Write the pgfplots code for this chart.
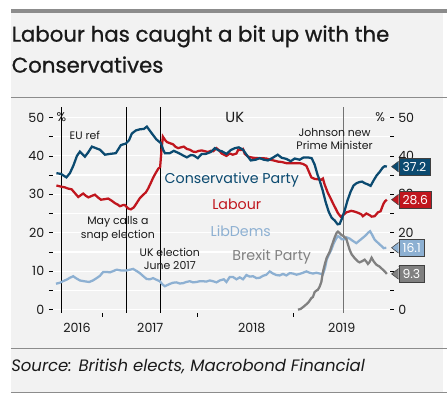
\documentclass[border=0pt]{standalone}
\usepackage{pgfplots}
\pgfplotsset{compat=1.18}
\usepackage{fontspec}
\setmainfont{Poppins}
\newfontfamily\titlefont{Poppins}[FakeBold=0.8]
\definecolor{con}{HTML}{0B4A70}
\definecolor{lab}{HTML}{C0161E}
\definecolor{ld}{HTML}{8DB0D2}
\definecolor{bxp}{HTML}{808080}
\definecolor{panel}{HTML}{F2F2F2}
\definecolor{rule}{HTML}{8C8C8C}
\definecolor{ink}{HTML}{1A1A1A}

\tikzset{valbox/.style={anchor=west, draw=black!75, line width=0.4pt, text=white,
    font=\fontsize{9.3}{10}\selectfont, inner xsep=2.8pt, inner ysep=0pt,
    minimum height=12.5pt}}

\pgfplotstableread{
m v
6.31 35.5
6.88 35.3
7.56 34.4
8.0 35.5
8.44 37.5
8.88 40.0
9.25 41.1
9.88 39.8
10.25 40.8
10.75 42.4
11.25 42.0
11.75 41.6
12.38 40.3
13.0 40.5
13.75 40.7
14.38 42.8
15.0 43.2
15.38 44.0
15.75 45.8
16.25 46.6
16.75 46.9
17.25 47.0
17.63 47.6
18.19 46.0
18.81 44.3
19.38 43.3
19.69 41.5
19.88 40.7
20.5 40.7
21.0 41.3
21.63 40.7
22.25 40.0
22.63 39.6
23.13 40.2
23.5 40.1
24.0 39.4
24.5 40.5
25.0 40.5
25.63 41.0
26.13 42.0
26.63 41.4
27.0 41.2
27.59 40.5
28.13 41.5
28.63 42.0
29.13 42.2
29.66 41.6
30.13 40.2
30.63 38.8
31.25 39.0
31.75 39.4
32.25 39.0
32.79 38.8
33.38 39.5
34.0 40.3
34.5 39.5
35.09 39.2
35.63 38.6
36.13 39.3
36.75 39.0
37.25 39.6
37.75 39.6
38.25 39.4
38.63 37.7
39.0 35.0
39.25 33.6
39.63 31.0
40.0 28.0
40.38 25.5
40.75 23.9
41.13 23.2
41.5 22.2
41.75 22.3
42.0 23.5
42.38 25.8
42.75 28.5
43.13 30.7
43.5 32.3
43.88 32.9
44.25 33.2
44.56 33.3
44.88 32.9
45.25 32.6
45.63 32.2
46.0 33.6
46.38 34.9
46.75 35.8
47.13 36.9
47.38 37.3
47.66 37.2
}\conTable

\pgfplotstableread{
m v
6.31 32.3
6.88 32.0
7.38 31.8
7.75 31.5
8.21 31.3
8.63 30.3
9.04 29.3
9.38 29.8
9.66 30.2
10.0 29.6
10.31 29.2
10.75 29.6
11.13 29.9
11.5 29.2
11.88 28.6
12.25 28.7
12.79 28.9
13.25 28.3
13.63 27.7
14.0 27.3
14.25 26.9
14.66 27.2
14.88 27.2
15.29 26.3
15.63 26.1
16.0 26.6
16.38 27.8
16.75 29.0
17.13 29.8
17.5 30.5
17.79 31.5
18.13 33.0
18.41 34.3
18.75 35.6
19.04 36.6
19.29 37.1
19.44 41.0
19.63 45.0
19.88 44.2
20.13 43.6
20.5 43.3
20.91 43.0
21.25 42.3
21.54 42.0
21.88 42.2
22.25 42.4
22.63 41.8
23.0 41.6
23.41 41.1
23.75 41.0
24.13 41.3
24.5 41.4
24.88 41.2
25.29 41.0
25.63 41.3
25.94 41.2
26.34 42.0
26.63 41.5
27.0 40.6
27.59 40.0
28.0 40.6
28.38 40.3
28.84 40.6
29.06 41.6
29.38 41.5
29.66 41.8
29.88 40.5
30.29 39.8
30.91 39.5
31.5 39.4
32.0 39.4
32.59 39.3
33.0 39.0
33.5 38.8
34.04 38.5
34.5 38.4
35.09 38.1
35.63 38.1
36.34 38.1
36.75 38.1
37.16 37.9
37.59 37.4
37.88 36.0
38.21 34.4
38.63 34.0
39.04 33.9
39.46 33.8
39.66 34.1
39.88 32.5
40.29 30.3
40.63 28.9
40.91 27.7
41.25 26.3
41.54 25.1
41.88 24.2
42.13 24.5
42.59 25.3
43.21 25.7
43.63 25.5
44.04 25.2
44.46 24.8
44.66 24.3
45.09 25.0
45.5 24.6
45.75 24.2
46.13 24.3
46.54 25.3
46.88 25.6
47.06 26.6
47.25 27.6
47.44 28.2
47.66 28.6
}\labTable

\pgfplotstableread{
m v
6.25 6.75
6.75 7.0
7.13 7.4
7.59 7.8
8.0 8.3
8.41 8.7
8.75 8.2
9.25 7.6
9.75 7.4
10.41 7.2
10.88 7.6
11.34 8.2
11.75 8.8
12.16 9.8
12.63 9.8
13.0 9.7
13.38 10.0
13.84 10.4
14.38 10.2
15.09 10.2
15.5 10.4
15.91 10.6
16.31 10.1
16.75 9.5
17.13 8.8
17.59 8.0
18.0 7.9
18.41 8.2
18.81 7.8
19.25 7.4
19.56 6.6
19.88 6.1
20.19 6.4
20.5 6.7
20.88 7.0
21.34 7.1
21.75 6.8
22.16 6.9
22.56 7.2
23.0 7.4
23.41 7.1
23.84 7.2
24.25 7.4
24.66 7.4
25.06 7.3
25.5 7.6
25.91 7.4
26.34 7.1
26.75 7.6
27.25 7.9
27.59 7.2
28.0 8.5
28.41 8.5
28.84 7.9
29.25 8.4
29.66 7.9
30.09 9.0
30.5 8.6
30.91 8.7
31.34 8.2
31.75 8.3
32.16 8.8
32.59 9.1
33.0 9.95
33.41 9.4
33.84 9.0
34.25 8.9
34.66 9.3
35.09 8.9
35.5 9.5
35.91 9.4
36.34 9.1
36.75 9.3
37.16 9.6
37.59 9.95
38.0 9.6
38.41 9.4
38.84 9.6
39.25 9.4
39.66 9.2
39.94 11.0
40.13 13.0
40.38 14.2
40.71 15.6
41.0 17.2
41.34 18.6
41.56 19.1
41.75 18.9
42.0 18.3
42.38 18.3
42.63 18.8
43.0 18.5
43.25 18.1
43.84 17.3
44.25 18.0
44.66 18.7
45.0 19.3
45.31 20.0
45.56 20.4
45.81 19.5
46.13 18.2
46.54 17.4
46.96 16.6
47.25 16.0
47.59 16.1
}\ldTable

\pgfplotstableread{
m v
36.54 0.0
36.88 0.2
37.25 0.8
37.59 1.4
37.88 2.0
38.21 3.0
38.41 3.3
38.63 4.6
38.88 5.0
39.04 5.2
39.25 6.0
39.46 7.2
39.66 9.8
39.88 11.7
40.13 13.5
40.5 15.0
40.91 17.5
41.13 18.8
41.38 20.0
41.54 20.3
41.75 19.9
42.0 19.4
42.25 19.1
42.59 18.4
42.79 17.0
43.0 15.6
43.25 14.4
43.63 13.4
44.0 12.6
44.25 12.3
44.56 12.6
44.88 13.0
45.13 12.4
45.29 11.9
45.5 12.4
45.75 13.5
46.0 12.6
46.34 11.7
46.75 11.2
47.16 10.4
47.5 9.7
47.66 9.3
}\bxpTable

\pgfplotsset{
  base/.style={
    at={(39.75pt,60.675pt)}, anchor=south west,
    scale only axis, width=252.75pt, height=154.77pt,
    xmin=5.875, xmax=48, ymin=-0.8, ymax=52.8,
    axis line style={draw=none},
    clip=false,
    tick align=outside,
    major tick length=3pt, minor tick length=3pt,
    every tick/.style={black, line width=0.5pt},
    ytick={0,10,...,50}, minor ytick={5,15,...,45},
    /pgf/number format/assume math mode=true,
    tick label style={font=\fontsize{9.5}{11}\selectfont, text=ink},
  }
}

\begin{document}
\begin{tikzpicture}
\begin{scope}[yshift=295.5pt, x=0.75pt, y=-0.75pt]
  \fill[white] (0,0) rectangle (447,394);
  \fill[panel] (11,13) rectangle (443,392);
  \fill[rule] (11,9) rectangle (447,13);
  \draw[rule, line width=0.75pt] (11,98) -- (447,98);
  \draw[rule, line width=0.75pt] (11,349) -- (447,349);
  \draw[rule, line width=0.75pt] (11,392.5) -- (447,392.5);
  \node[anchor=base west, inner sep=0, text=ink, font=\titlefont\fontsize{16}{19}\selectfont] at (11.5,41.7) {Labour has caught a bit up with the};
  \node[anchor=base west, inner sep=0, text=ink, font=\titlefont\fontsize{16}{19}\selectfont] at (11.5,72.7) {Conservatives};
  \node[anchor=base west, inner sep=0, text=ink, font=\fontsize{12.4}{14}\selectfont\itshape] at (11,371.5) {Source: British elects, Macrobond Financial};
\end{scope}

\begin{axis}[base,
  ytick pos=left,
  xtick={12,24,36}, xticklabels={},
  xtick pos=bottom,
  extra x ticks={8.875,18.06,30.75,42},
  extra x tick labels={2016,2017,2018,2019},
  extra x tick style={major tick length=0pt, xticklabel style={yshift=-4.5pt}},
  ymajorgrids, yminorgrids,
  major grid style={white, line width=0.9pt},
  minor grid style={white, line width=0.9pt},
]
  \draw[black, line width=0.75pt] (axis cs:7,-0.8) -- (axis cs:7,52.8);
  \draw[black, line width=0.75pt] (axis cs:15.13,-0.8) -- (axis cs:15.13,52.8);
  \draw[black, line width=0.75pt] (axis cs:19.38,-0.8) -- (axis cs:19.38,52.8);
  \draw[bxp!90!black, line width=0.9pt] (axis cs:42.25,-0.8) -- (axis cs:42.25,52.8);

  \addplot[ld, line width=1.7pt] table[x=m,y=v] {\ldTable};
  \addplot[bxp, line width=1.7pt] table[x=m,y=v] {\bxpTable};
  \addplot[lab, line width=1.7pt] table[x=m,y=v] {\labTable};
  \addplot[con, line width=1.7pt] table[x=m,y=v] {\conTable};

  \node[text=ink, font=\fontsize{8.2}{9.9}\selectfont] at (axis cs:9.875,45.2) {EU ref};
  \node[text=ink, align=center, font=\fontsize{8.2}{10.3}\selectfont] at (axis cs:14.0,21.0) {May calls a\\snap election};
  \node[text=ink, align=center, font=\fontsize{8.2}{9.9}\selectfont] at (axis cs:20.5,13.1) {UK election\\June 2017};
  \node[text=ink, align=center, font=\fontsize{8.2}{9.9}\selectfont] at (axis cs:41.125,44.3) {Johnson new\\Prime Minister};
  \node[text=ink, font=\fontsize{11}{13}\selectfont] at (axis cs:28.63,50.1) {UK};
  \node[text=con, font=\fontsize{10.7}{12}\selectfont] at (axis cs:28.25,33.8) {Conservative Party};
  \node[text=lab, font=\fontsize{10.7}{12}\selectfont] at (axis cs:28.88,27.5) {Labour};
  \node[text=ld, font=\fontsize{10.7}{12}\selectfont] at (axis cs:29.38,20.3) {LibDems};
  \node[text=bxp, font=\fontsize{10.7}{12}\selectfont] at (axis cs:33.25,13.8) {Brexit Party};
  \node[text=ink, font=\fontsize{9.5}{11}\selectfont] at (axis cs:6.94,50.0) {\%};
\end{axis}

\begin{axis}[base,
  xtick=\empty,
  ytick pos=right, yticklabel pos=right,
]
  \node[text=ink, font=\fontsize{9.5}{11}\selectfont, anchor=east] at (axis cs:48,50.0) {\%};
  \node[valbox, fill=con] (b1) at ([xshift=6.75pt]axis cs:48,37.2) {37.2};
  \filldraw[fill=con, draw=black!75, line width=0.4pt] ([yshift=4pt]b1.west) -- ([xshift=-5.25pt]b1.west) -- ([yshift=-4pt]b1.west);
  \node[valbox, fill=lab] (b2) at ([xshift=6.75pt]axis cs:48,28.6) {28.6};
  \filldraw[fill=lab, draw=black!75, line width=0.4pt] ([yshift=4pt]b2.west) -- ([xshift=-5.25pt]b2.west) -- ([yshift=-4pt]b2.west);
  \node[valbox, fill=ld] (b3) at ([xshift=6.75pt]axis cs:48,16.1) {16.1};
  \filldraw[fill=ld, draw=black!75, line width=0.4pt] ([yshift=4pt]b3.west) -- ([xshift=-5.25pt]b3.west) -- ([yshift=-4pt]b3.west);
  \node[valbox, fill=bxp] (b4) at ([xshift=6.75pt]axis cs:48,9.3) {9.3};
  \filldraw[fill=bxp, draw=black!75, line width=0.4pt] ([yshift=4pt]b4.west) -- ([xshift=-5.25pt]b4.west) -- ([yshift=-4pt]b4.west);
\end{axis}
\end{tikzpicture}
\end{document}
